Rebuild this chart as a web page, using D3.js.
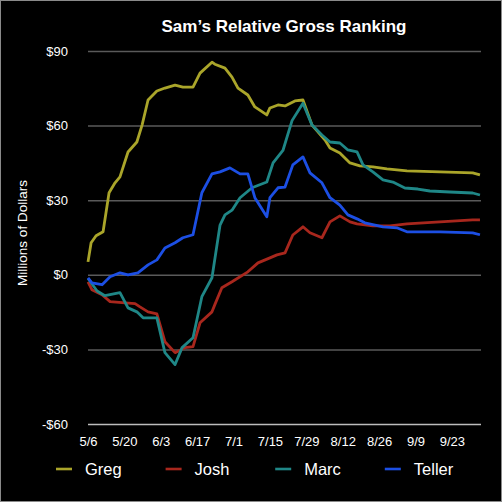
<!DOCTYPE html>
<html><head><meta charset="utf-8">
<script src="https://cdn.jsdelivr.net/npm/d3@7"></script>
<style>html,body{margin:0;padding:0;background:#000;}svg{display:block;}</style>
</head><body>
<script>
// Data: day offsets from 5/6 and values (millions of dollars)
const gregDays = [0,1.2,3.1,5.8,8.1,10.4,12.3,15.4,18.8,20.8,23.1,26.5,29.6,33.5,36.5,40.4,43.1,47.7,48.8,52.7,55.4,57.7,61.5,64.2,68.8,70,73.1,75.8,79.6,82.7,86.2,91.2,93.1,96.9,100.8,104.6,109.6,115,122.7,135.4,148,150.8];
const gregVals = [5.2,12.9,15.7,17.3,33,37,39.4,49.4,53.4,60.2,70.3,73.9,75.1,76.3,75.5,75.5,81.1,85.5,84.7,83.1,79.5,75.1,72.3,67.5,64.3,67.1,68.3,67.9,69.9,70.3,60.2,54.2,51,49,45,43.8,43.4,42.6,41.8,41.4,41,40.2];

const joshDays = [0,1.5,5.4,8.5,13.1,18.1,20,23.1,26.5,29.6,33.5,37.3,40.4,43.1,47.7,48.8,51.5,55.4,61.5,65.4,70,72.7,75.8,78.8,82.7,85.4,90,93.1,96.9,100.8,103.5,109.6,116.2,122.7,135.4,148,150.8];
const joshVals = [-2.8,-6,-8,-10.8,-11.2,-11.6,-12.9,-14.9,-15.7,-26.9,-31.3,-29.3,-28.9,-19.3,-14.9,-12,-5.2,-2.8,1.2,4.8,6.8,8,8.8,16,19.3,16.9,14.9,21.3,23.7,21.3,20.5,19.7,19.7,20.5,21.3,22.1,22.1];

const marcDays = [0,3.5,6.5,12.3,15.4,18.8,21.2,26.5,29.6,33.5,36.2,40.4,43.8,47.7,50.8,52.7,55.4,58.5,63.1,68.8,71.2,75,78.5,82.7,86.2,90,93.1,96.9,100,103.5,105.8,109.6,113.5,117.3,121.9,126.9,131.5,139.2,148,150.8];
const marcVals = [-1.5,-6.5,-8.4,-7.2,-13.3,-14.9,-17.3,-17.3,-31.3,-36.1,-29.3,-25.3,-8.8,-1.2,20,24.1,26,31,35,37.3,45,50,62,69,60.2,56.2,53.4,53,50.2,49.4,44.2,41.4,38.2,37.3,34.9,34.5,33.7,33.3,32.9,32.1];

const tellerDays = [0,1.5,5.4,8.5,12.3,15.4,19.2,23.1,26.5,29.6,33.5,36.5,40.4,43.8,47.7,50.8,54.6,58.5,61.5,64.2,68.8,70,73.1,75.8,78.8,82.7,85.4,90,93.1,96.9,100,103.5,106.5,113.5,118.8,122.7,135.4,148,150.8];
const tellerVals = [-1.2,-3.2,-4,-0.8,0.8,0,0.8,4,6,10.8,12.9,14.9,16.1,33,40.6,41.4,43,40.6,40.6,31,23.3,31,35,35.3,44.2,47.4,41,37,31,28,24.1,22.5,20.9,19.3,18.9,17.3,17.3,16.9,16.1];

const seriesNames = ["Greg","Josh","Marc","Teller"];
const seriesColors = ["#aaa52a","#a8271d","#1f8787","#1c4fe4"];
const yTicks = [-60,-30,0,30,60,90];
const xTickDays = [0,14,28,42,56,70,84,98,112,126,140];

const base = Date.UTC(2012,4,6);
const toDate = d => new Date(base + d*864e5);
const series = [
  {name: seriesNames[0], color: seriesColors[0], days: gregDays, vals: gregVals},
  {name: seriesNames[1], color: seriesColors[1], days: joshDays, vals: joshVals},
  {name: seriesNames[2], color: seriesColors[2], days: marcDays, vals: marcVals},
  {name: seriesNames[3], color: seriesColors[3], days: tellerDays, vals: tellerVals}
];

const W = 502, H = 502;
const svg = d3.select("body").append("svg").attr("width", W).attr("height", H);
svg.append("rect").attr("x",0.5).attr("y",0.5).attr("width",W-1).attr("height",H-1)
  .attr("fill","#000").attr("stroke","#8a8a8a").attr("stroke-width",1);

const x = d3.scaleUtc().domain([toDate(0), toDate(151.2)]).range([88, 481]);
const y = d3.scaleLinear().domain([-60, 90]).range([424, 51]);
const font = "'Liberation Sans', Arial, Helvetica, sans-serif";

// title
svg.append("text").attr("x", 284).attr("y", 32).attr("text-anchor","middle")
  .attr("fill","#fff").attr("font-family",font).attr("font-weight","bold")
  .attr("font-size","17px").text("Sam\u2019s Relative Gross Ranking");

// y grid + labels
const yAxis = d3.axisLeft(y).tickValues(yTicks).tickSize(-(481-88))
  .tickFormat(v => (v < 0 ? "-$" : "$") + Math.abs(v)).tickPadding(20);
const gy = svg.append("g").attr("transform","translate(88,0)").call(yAxis);
gy.select(".domain").remove();
gy.selectAll(".tick line").attr("stroke", v => v === -60 ? "#bdbdbd" : "#5a5a5a").attr("stroke-width", 1.5);
gy.selectAll(".tick text").attr("fill","#fff").attr("font-family",font).attr("font-size","13px");

// x axis labels
const xAxis = d3.axisBottom(x).tickValues(xTickDays.map(toDate)).tickSize(0)
  .tickFormat(d3.utcFormat("%-m/%-d")).tickPadding(13);
const gx = svg.append("g").attr("transform","translate(0,424)").call(xAxis);
gx.select(".domain").remove();
gx.selectAll(".tick text").attr("fill","#fff").attr("font-family",font).attr("font-size","13px");

// y title
svg.append("text").attr("transform","translate(27,233) rotate(-90)").attr("text-anchor","middle")
  .attr("fill","#fff").attr("font-family",font).attr("font-size","13.5px").text("Millions of Dollars");

// lines
const line = d3.line().x(d => x(toDate(d[0]))).y(d => y(d[1]));
svg.append("g").selectAll("path").data(series).join("path")
  .attr("d", s => line(s.days.map((d,i) => [d, s.vals[i]])))
  .attr("fill","none").attr("stroke", s => s.color).attr("stroke-width", 2.8)
  .attr("stroke-linejoin","round");

// legend
const lg = svg.append("g").selectAll("g").data(series).join("g")
  .attr("transform", (s,i) => `translate(${56 + i*109.6},469)`);
lg.append("line").attr("x1",0).attr("x2",16).attr("y1",0).attr("y2",0)
  .attr("stroke", s => s.color).attr("stroke-width", 2.6);
lg.append("text").attr("x", 29).attr("y", 6).attr("fill","#fff")
  .attr("font-family",font).attr("font-size","16.5px").text(s => s.name);
</script>
</body></html>
